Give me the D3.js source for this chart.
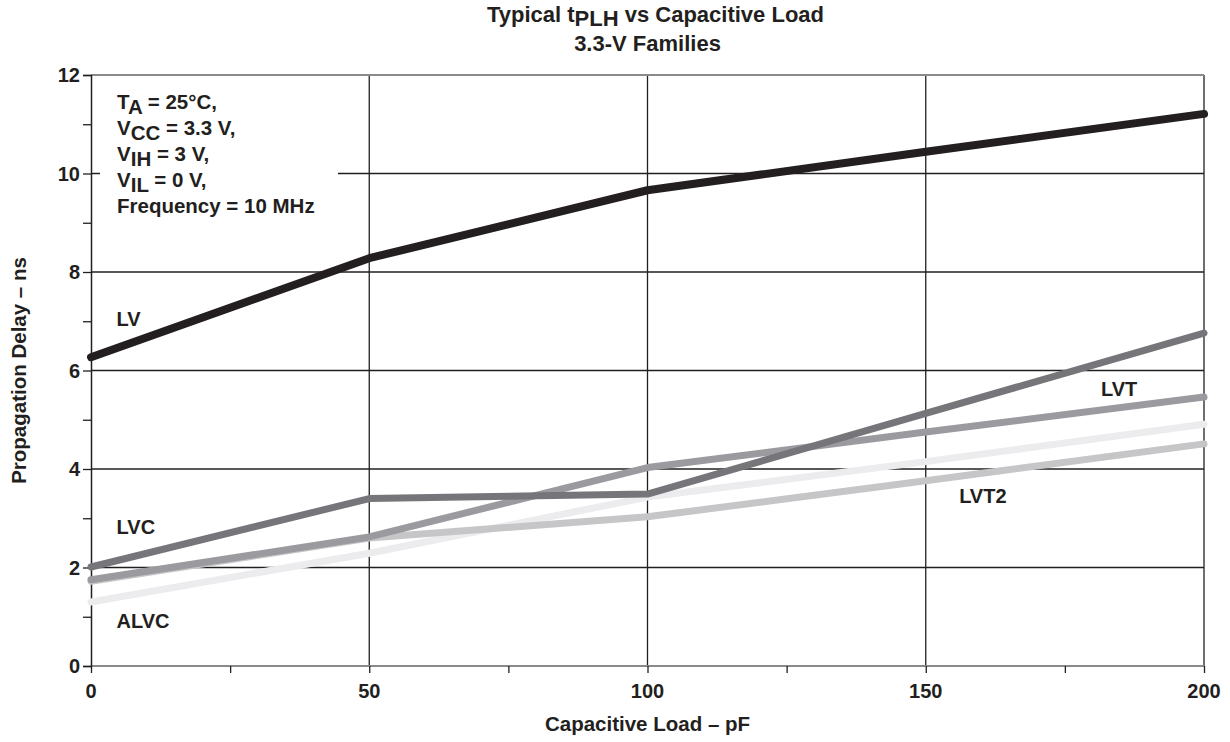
<!DOCTYPE html>
<html lang="en">
  <head>
    <meta charset="UTF-8" />
    <title>Typical tPLH vs Capacitive Load</title>
    <script src="https://d3js.org/d3.v7.min.js"></script>
    <style>
      body {
        margin: 0;
        background: white;
        font-family: 'Liberation Sans', Arial, sans-serif;
      }
      svg {
        display: block;
      }
      text {
        font-weight: bold;
        fill: #231f20;
      }
    </style>
  </head>
  <body>
    <svg width="1230" height="742"></svg>

    <script>
      // capacitive load (pF) at which each curve was read
      const loads = [0, 50, 100, 150, 200];

      // propagation delay (ns) per family
      const lv = [6.27, 8.28, 9.66, 10.44, 11.21];
      const lvc = [2.01, 3.4, 3.49, 5.13, 6.76];
      const lvt = [1.75, 2.62, 4.03, 4.75, 5.46];
      const lvt2 = [1.72, 2.6, 3.03, 3.76, 4.51];
      const alvc = [1.3, 2.29, 3.43, 4.15, 4.91];

      const xTicks = [0, 50, 100, 150, 200];
      const yTicks = [0, 2, 4, 6, 8, 10, 12];

      const margin = { top: 75, right: 26, bottom: 76, left: 91 },
        width = 1230 - margin.left - margin.right,
        height = 742 - margin.top - margin.bottom;

      const svg = d3
        .select('svg')
        .append('g')
        .attr('transform', `translate(${margin.left},${margin.top})`);

      const x = d3.scaleLinear().domain([0, 200]).range([0, width]);
      const y = d3.scaleLinear().domain([0, 12]).range([height, 0]);

      // grid
      svg
        .selectAll('.hgrid')
        .data([2, 4, 6, 8, 10])
        .join('line')
        .attr('x1', 0)
        .attr('x2', width)
        .attr('y1', (d) => y(d))
        .attr('y2', (d) => y(d))
        .attr('stroke', '#231f20')
        .attr('stroke-width', 1.3);

      svg
        .selectAll('.vgrid')
        .data([50, 100, 150, 200])
        .join('line')
        .attr('x1', (d) => x(d))
        .attr('x2', (d) => x(d))
        .attr('y1', 0)
        .attr('y2', height)
        .attr('stroke', '#231f20')
        .attr('stroke-width', 1.3);

      // top and bottom frame in grey
      svg
        .selectAll('.frame')
        .data([0, 12])
        .join('line')
        .attr('x1', 0)
        .attr('x2', width)
        .attr('y1', (d) => y(d))
        .attr('y2', (d) => y(d))
        .attr('stroke', '#8a8a8c')
        .attr('stroke-width', 2);

      // left axis
      svg
        .append('g')
        .call(
          d3
            .axisLeft(y)
            .tickValues(d3.range(0, 12.5, 1))
            .tickSize(8)
            .tickFormat(() => ''),
        )
        .call((g) => g.select('.domain').attr('stroke', '#231f20').attr('stroke-width', 1.5))
        .call((g) => g.selectAll('.tick line').attr('stroke', '#231f20').attr('stroke-width', 1.3));

      svg
        .selectAll('.ylab')
        .data(yTicks)
        .join('text')
        .attr('x', -11)
        .attr('y', (d) => y(d))
        .attr('dy', '0.36em')
        .attr('text-anchor', 'end')
        .attr('font-size', 20)
        .text((d) => d);

      // bottom ticks
      svg
        .append('g')
        .attr('transform', `translate(0,${height})`)
        .call(
          d3
            .axisBottom(x)
            .tickValues(d3.range(0, 201, 25))
            .tickSize(7)
            .tickFormat(() => ''),
        )
        .call((g) => g.select('.domain').remove())
        .call((g) => g.selectAll('.tick line').attr('stroke', '#231f20').attr('stroke-width', 1.3));

      svg
        .selectAll('.xlab')
        .data(xTicks)
        .join('text')
        .attr('x', (d) => x(d))
        .attr('y', height + 32)
        .attr('text-anchor', 'middle')
        .attr('font-size', 20)
        .text((d) => d);

      // annotation box (masks the grid behind it)
      svg
        .append('rect')
        .attr('x', 9)
        .attr('y', 8)
        .attr('width', 238)
        .attr('height', 144)
        .attr('fill', 'white');

      const note = svg.append('text').attr('x', 26).attr('font-size', 20.5);

      const noteLines = [
        ['T', 'A', ' = 25°C,'],
        ['V', 'CC', ' = 3.3 V,'],
        ['V', 'IH', ' = 3 V,'],
        ['V', 'IL', ' = 0 V,'],
        ['Frequency = 10 MHz', '', ''],
      ];
      noteLines.forEach((l, i) => {
        const base = 34 + i * 26;
        note.append('tspan').attr('x', 26).attr('y', base).text(l[0]);
        if (l[1]) {
          note.append('tspan').attr('dy', 5).text(l[1]);
          note.append('tspan').attr('dy', -5).text(l[2]);
        }
      });

      // curves
      const series = [
        { name: 'ALVC', values: alvc, color: '#ececee', w: 7 },
        { name: 'LVT2', values: lvt2, color: '#c6c6c8', w: 7 },
        { name: 'LVT', values: lvt, color: '#9b9b9f', w: 7 },
        { name: 'LVC', values: lvc, color: '#76767a', w: 7 },
        { name: 'LV', values: lv, color: '#231f20', w: 8 },
      ];

      const line = d3
        .line()
        .x((d, i) => x(loads[i]))
        .y((d) => y(d));

      svg
        .selectAll('.curve')
        .data(series)
        .join('path')
        .attr('fill', 'none')
        .attr('stroke', (d) => d.color)
        .attr('stroke-width', (d) => d.w)
        .attr('stroke-linecap', 'round')
        .attr('stroke-linejoin', 'round')
        .attr('d', (d) => line(d.values));

      // curve labels
      const labels = [
        { text: 'LV', load: 4.6, v: 7.05 },
        { text: 'LVC', load: 4.6, v: 2.82 },
        { text: 'ALVC', load: 4.6, v: 0.92 },
        { text: 'LVT', load: 181.5, v: 5.63 },
        { text: 'LVT2', load: 156, v: 3.45 },
      ];
      svg
        .selectAll('.clab')
        .data(labels)
        .join('text')
        .attr('x', (d) => x(d.load))
        .attr('y', (d) => y(d.v))
        .attr('dy', '0.36em')
        .attr('font-size', 20)
        .text((d) => d.text);

      // titles
      const root = d3.select('svg');
      const cx = margin.left + x(100);
      const title = root
        .append('text')
        .attr('x', cx + 8)
        .attr('y', 22)
        .attr('text-anchor', 'middle')
        .attr('font-size', 22);
      title.append('tspan').text('Typical t');
      title.append('tspan').attr('dy', 4).text('PLH');
      title.append('tspan').attr('dy', -4).text(' vs Capacitive Load');

      root
        .append('text')
        .attr('x', cx)
        .attr('y', 51)
        .attr('text-anchor', 'middle')
        .attr('font-size', 22)
        .text('3.3-V Families');

      root
        .append('text')
        .attr('x', cx)
        .attr('y', 731)
        .attr('text-anchor', 'middle')
        .attr('font-size', 20.5)
        .text('Capacitive Load – pF');

      root
        .append('text')
        .attr('transform', `translate(26,${margin.top + y(6)}) rotate(-90)`)
        .attr('text-anchor', 'middle')
        .attr('font-size', 20.5)
        .text('Propagation Delay – ns');
    </script>
  </body>
</html>
